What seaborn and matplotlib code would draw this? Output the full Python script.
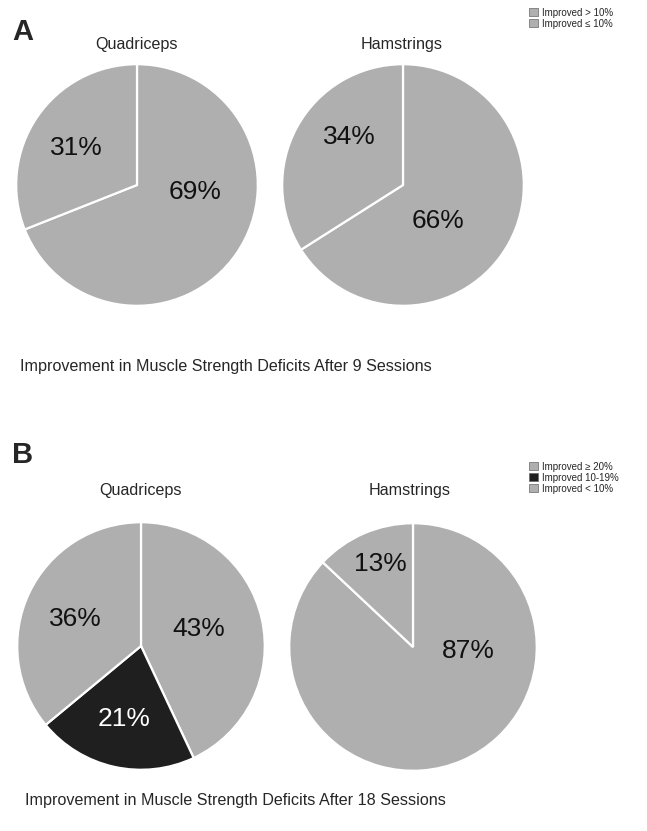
import matplotlib
matplotlib.use("Agg")
import matplotlib.pyplot as plt
from matplotlib.patches import Patch
import seaborn as sns

sns.set_theme(style="white")
plt.rcParams["font.family"] = ["Liberation Sans", "DejaVu Sans"]

# data
muscles = ["Quadriceps", "Hamstrings"]
a_labels = ["Improved > 10%", "Improved \u2264 10%"]
a_quad = [69, 31]
a_ham = [66, 34]
b_labels = ["Improved \u2265 20%", "Improved 10-19%", "Improved < 10%"]
b_quad = [43, 21, 36]
b_ham = [87, 13]
caption_a = "Improvement in Muscle Strength Deficits After 9 Sessions"
caption_b = "Improvement in Muscle Strength Deficits After 18 Sessions"

light = "#afafaf"
dark = "#1f1f1f"

W, H = 647, 831
fig = plt.figure(figsize=(W / 100, H / 100), dpi=100)


def pie_axes(cx, cy, r):
    ax = fig.add_axes([(cx - r) / W, (H - cy - r) / H, 2 * r / W, 2 * r / H])
    return ax


def draw_pie(ax, vals, colors, text_pos, text_colors):
    wedges, texts, autotexts = ax.pie(
        vals, colors=colors, startangle=90, counterclock=False, radius=1,
        autopct="%d%%", wedgeprops=dict(edgecolor="white", linewidth=1.6),
        textprops=dict(fontsize=19))
    for t, pos, c in zip(autotexts, text_pos, text_colors):
        t.set_position(pos)
        t.set_color(c)
    # pie() resets the limits, so fix them afterwards
    ax.set_xlim(-1.01, 1.01)
    ax.set_ylim(-1.01, 1.01)
    ax.set_aspect("equal")
    ax.axis("off")
    return wedges


# panel A
ax = pie_axes(137, 185, 122)
draw_pie(ax, a_quad, [light, light], [(0.48, -0.06), (-0.50, 0.31)], ["#111", "#111"])
ax = pie_axes(403, 185, 122)
draw_pie(ax, a_ham, [light, light], [(0.29, -0.30), (-0.44, 0.40)], ["#111", "#111"])

# panel B
ax = pie_axes(141, 646, 125)
draw_pie(ax, b_quad, [light, dark, light],
         [(0.47, 0.14), (-0.14, -0.59), (-0.53, 0.22)], ["#111", "white", "#111"])
ax = pie_axes(413, 647, 125)
draw_pie(ax, b_ham, [light, light], [(0.45, -0.03), (-0.26, 0.67)], ["#111", "#111"])

# titles
for name, x in zip(muscles, [137, 402]):
    fig.text(x / W, 1 - 44 / H, name, ha="center", va="center", fontsize=11.6)
for name, x in zip(muscles, [140, 410]):
    fig.text(x / W, 1 - 490 / H, name, ha="center", va="center", fontsize=11.6)

fig.text(12 / W, 1 - 32 / H, "A", ha="left", va="center", fontsize=21, fontweight="bold")
fig.text(12 / W, 1 - 455 / H, "B", ha="left", va="center", fontsize=21, fontweight="bold")

fig.text(20 / W, 1 - 366 / H, caption_a, ha="left", va="center", fontsize=11.6)
fig.text(25 / W, 1 - 800 / H, caption_b, ha="left", va="center", fontsize=11.6)

# legends
leg_a = [Patch(facecolor=light, edgecolor="#666", linewidth=0.5, label=l) for l in a_labels]
fig.legend(handles=leg_a, loc="upper left", bbox_to_anchor=(522 / W, 1 - 1 / H),
           frameon=False, fontsize=7, handlelength=0.9, handleheight=0.9,
           handletextpad=0.5, labelspacing=0.1, borderpad=0.2)
leg_b = [Patch(facecolor=c, edgecolor="#666", linewidth=0.5, label=l)
         for c, l in zip([light, dark, light], b_labels)]
fig.legend(handles=leg_b, loc="upper left", bbox_to_anchor=(522 / W, 1 - 455 / H),
           frameon=False, fontsize=7, handlelength=0.9, handleheight=0.9,
           handletextpad=0.5, labelspacing=0.1, borderpad=0.2)

fig.savefig("out.png", dpi=100, facecolor="white")
